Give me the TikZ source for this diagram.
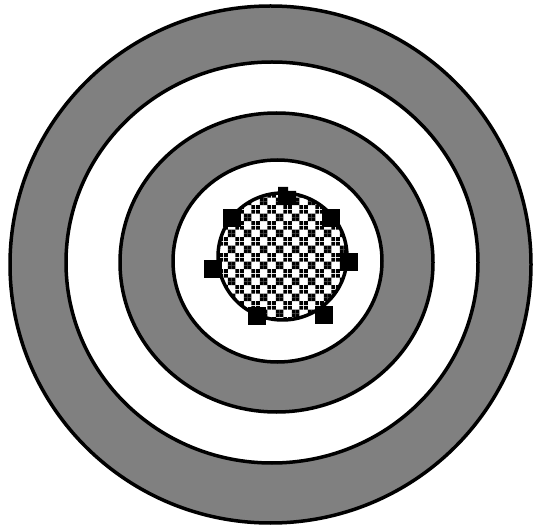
\documentclass[tikz,border=0pt]{standalone}
\usetikzlibrary{patterns.meta}
\tikzdeclarepattern{
  name=dotcross,
  type=uncolored,
  bottom left={(0pt,0pt)},
  top right={(16pt,16pt)},
  tile size={(16pt,16pt)},
  code={
    \foreach \i in {0,1,2,3}{
      \fill (4*\i pt,4*\i pt) rectangle ++(4pt,4pt);
      \fill (12pt-4*\i pt,4*\i pt) rectangle ++(4pt,4pt);
    }
  }
}
\begin{document}
\begin{tikzpicture}[x=1pt,y=-1pt,
  ringline/.style={draw=black,line width=3.5pt},
  grayring/.style={ringline,fill=gray},
  whitering/.style={ringline,fill=white},
  marker/.style={fill=black},
]
\useasboundingbox (0,0) rectangle (533,529);
\fill[white] (0,0) rectangle (533,529);
\draw[grayring]  (270.5,264.5) ellipse [x radius=260.5, y radius=258.5];
\draw[whitering] (272,262.5) ellipse [x radius=206, y radius=200.5];
\draw[grayring]  (276.5,262.5) ellipse [x radius=156.5, y radius=149.5];
\draw[whitering] (277.5,261) ellipse [x radius=104.5, y radius=101];
\fill[white] (282.5,256.5) ellipse [x radius=64.5, y radius=63.5];
\draw[ringline,pattern={dotcross},pattern color=black] (282.5,256.5) ellipse [x radius=64.5, y radius=63.5];
% markers
\foreach \cx/\cy in {232/218, 331/218, 213/269, 349/262, 257/316, 324/315}
  \fill[marker] (\cx-9,\cy-9) rectangle (\cx+9,\cy+9);
\fill[marker] (278,205) -- (278,187) -- (288,187) -- (288,191) -- (296,191) -- (296,205) -- cycle;
\end{tikzpicture}
\end{document}
